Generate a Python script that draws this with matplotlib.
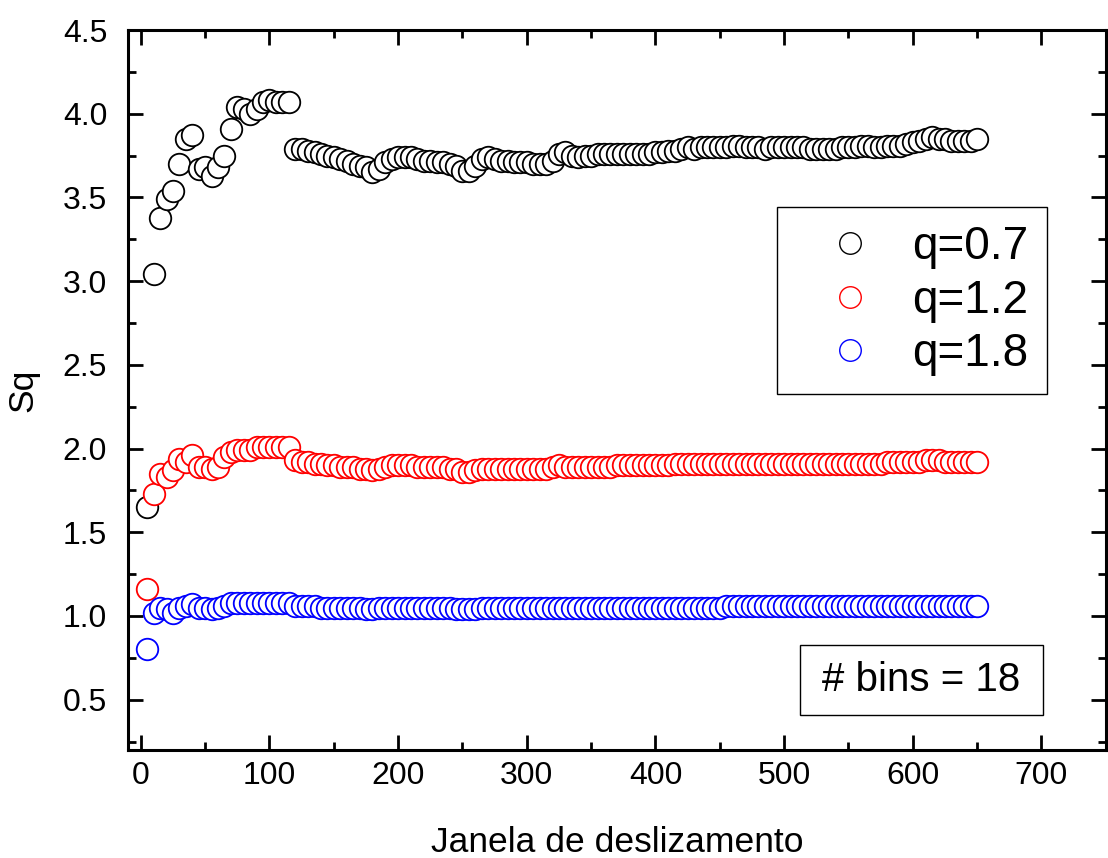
import numpy as np
import matplotlib
matplotlib.use('Agg')
import matplotlib.pyplot as plt
from matplotlib.ticker import MultipleLocator
from matplotlib.patches import Rectangle

plt.rcParams['font.family'] = ['Liberation Sans', 'DejaVu Sans']

# janela de deslizamento: 5, 10, ..., 650
janela = list(range(5, 655, 5))

sq_07 = [1.65, 3.04, 3.38, 3.49, 3.54, 3.70, 3.85, 3.87, 3.67, 3.68,
         3.63, 3.68, 3.75, 3.91, 4.04, 4.03, 4.00, 4.03, 4.07, 4.08,
         4.07, 4.07, 4.07, 3.79, 3.79, 3.78, 3.77, 3.76, 3.75, 3.74,
         3.73, 3.72, 3.70, 3.69, 3.68, 3.65, 3.67, 3.71, 3.73, 3.74,
         3.74, 3.74, 3.73, 3.72, 3.72, 3.71, 3.71, 3.70, 3.69, 3.66,
         3.66, 3.69, 3.73, 3.74, 3.73, 3.72, 3.72, 3.71, 3.71, 3.71,
         3.70, 3.70, 3.70, 3.72, 3.76, 3.77, 3.75, 3.74, 3.75, 3.75,
         3.76, 3.76, 3.76, 3.76, 3.76, 3.76, 3.76, 3.76, 3.76, 3.77,
         3.77, 3.78, 3.78, 3.79, 3.80, 3.79, 3.80, 3.80, 3.80, 3.80,
         3.80, 3.81, 3.81, 3.80, 3.80, 3.80, 3.79, 3.80, 3.80, 3.80,
         3.80, 3.80, 3.80, 3.79, 3.79, 3.79, 3.79, 3.79, 3.80, 3.80,
         3.80, 3.81, 3.81, 3.80, 3.80, 3.81, 3.81, 3.81, 3.82, 3.83,
         3.84, 3.85, 3.86, 3.85, 3.85, 3.84, 3.84, 3.84, 3.84, 3.85]

sq_12 = [1.16, 1.73, 1.85, 1.83, 1.87, 1.94, 1.92, 1.96, 1.89, 1.89,
         1.88, 1.89, 1.95, 1.98, 1.99, 1.99, 1.99, 2.01, 2.01, 2.01,
         2.01, 2.01, 2.01, 1.93, 1.92, 1.92, 1.91, 1.91, 1.90, 1.90,
         1.89, 1.89, 1.89, 1.88, 1.88, 1.87, 1.88, 1.89, 1.90, 1.90,
         1.90, 1.90, 1.89, 1.89, 1.89, 1.89, 1.89, 1.88, 1.88, 1.86,
         1.86, 1.87, 1.88, 1.88, 1.88, 1.88, 1.88, 1.88, 1.88, 1.88,
         1.88, 1.88, 1.88, 1.89, 1.90, 1.89, 1.89, 1.89, 1.89, 1.89,
         1.89, 1.89, 1.89, 1.90, 1.90, 1.90, 1.90, 1.90, 1.90, 1.90,
         1.90, 1.90, 1.91, 1.91, 1.91, 1.91, 1.91, 1.91, 1.91, 1.91,
         1.91, 1.91, 1.91, 1.91, 1.91, 1.91, 1.91, 1.91, 1.91, 1.91,
         1.91, 1.91, 1.91, 1.91, 1.91, 1.91, 1.91, 1.91, 1.91, 1.91,
         1.91, 1.91, 1.91, 1.91, 1.91, 1.92, 1.92, 1.92, 1.92, 1.92,
         1.92, 1.93, 1.93, 1.93, 1.92, 1.92, 1.92, 1.92, 1.92, 1.92]

sq_18 = [0.80, 1.02, 1.05, 1.04, 1.02, 1.05, 1.06, 1.07, 1.05, 1.05,
         1.04, 1.05, 1.06, 1.08, 1.08, 1.08, 1.08, 1.08, 1.08, 1.08,
         1.08, 1.08, 1.08, 1.06, 1.06, 1.06, 1.06, 1.05, 1.05, 1.05,
         1.05, 1.05, 1.05, 1.05, 1.04, 1.04, 1.05, 1.05, 1.05, 1.05,
         1.05, 1.05, 1.05, 1.05, 1.05, 1.05, 1.05, 1.05, 1.04, 1.04,
         1.04, 1.04, 1.05, 1.05, 1.05, 1.05, 1.05, 1.05, 1.05, 1.05,
         1.05, 1.05, 1.05, 1.05, 1.05, 1.05, 1.05, 1.05, 1.05, 1.05,
         1.05, 1.05, 1.05, 1.05, 1.05, 1.05, 1.05, 1.05, 1.05, 1.05,
         1.05, 1.05, 1.05, 1.05, 1.05, 1.05, 1.05, 1.05, 1.05, 1.05,
         1.06, 1.06, 1.06, 1.06, 1.06, 1.06, 1.06, 1.06, 1.06, 1.06,
         1.06, 1.06, 1.06, 1.06, 1.06, 1.06, 1.06, 1.06, 1.06, 1.06,
         1.06, 1.06, 1.06, 1.06, 1.06, 1.06, 1.06, 1.06, 1.06, 1.06,
         1.06, 1.06, 1.06, 1.06, 1.06, 1.06, 1.06, 1.06, 1.06, 1.06]

rotulos = ['q=0.7', 'q=1.2', 'q=1.8']
cores = ['black', 'red', 'blue']

fig = plt.figure(figsize=(11.08, 8.58), dpi=100)
ax = fig.add_axes([0.1155, 0.126, 0.8825, 0.839])

for serie, cor, rot in zip([sq_07, sq_12, sq_18], cores, rotulos):
    ax.plot(janela, serie, linestyle='none', marker='o', markersize=15.5,
            markerfacecolor='white', markeredgecolor=cor,
            markeredgewidth=1.3, label=rot)

ax.set_xlim(-10, 750)
ax.set_ylim(0.2, 4.5)
ax.xaxis.set_major_locator(MultipleLocator(100))
ax.xaxis.set_minor_locator(MultipleLocator(50))
ax.yaxis.set_major_locator(MultipleLocator(0.5))
ax.yaxis.set_minor_locator(MultipleLocator(0.25))
ax.yaxis.set_major_formatter(plt.FormatStrFormatter('%.1f'))

ax.tick_params(which='both', direction='in', top=True, right=True,
               width=2, labelsize=23, colors='black')
ax.tick_params(which='major', length=11)
ax.tick_params(which='minor', length=6)
ax.tick_params(axis='x', pad=8)
ax.tick_params(axis='y', pad=15)
for sp in ax.spines.values():
    sp.set_linewidth(2.2)

ax.set_xlabel('Janela de deslizamento', fontsize=25.5, labelpad=25)
ax.set_ylabel('Sq', fontsize=25.5, labelpad=17)

leg = ax.legend(loc='upper left', bbox_to_anchor=(0.6636, 0.754),
                borderaxespad=0, fontsize=33, markerscale=1.0,
                handlelength=2.4, handletextpad=0.15, borderpad=0.4,
                labelspacing=0.2, fancybox=False, edgecolor='black',
                framealpha=1)
leg.get_frame().set_linewidth(1.0)
for h in leg.legend_handles:
    h.set_markeredgewidth(1.0)

# caixa do numero de bins
ax.add_patch(Rectangle((0.687, 0.0486), 0.2486, 0.0972,
                       transform=ax.transAxes, facecolor='white',
                       edgecolor='black', linewidth=1.0, zorder=5))
ax.text(0.8113, 0.0972, '# bins = 18', transform=ax.transAxes,
        fontsize=29, ha='center', va='center', zorder=6)

fig.savefig('out.png', dpi=100)
